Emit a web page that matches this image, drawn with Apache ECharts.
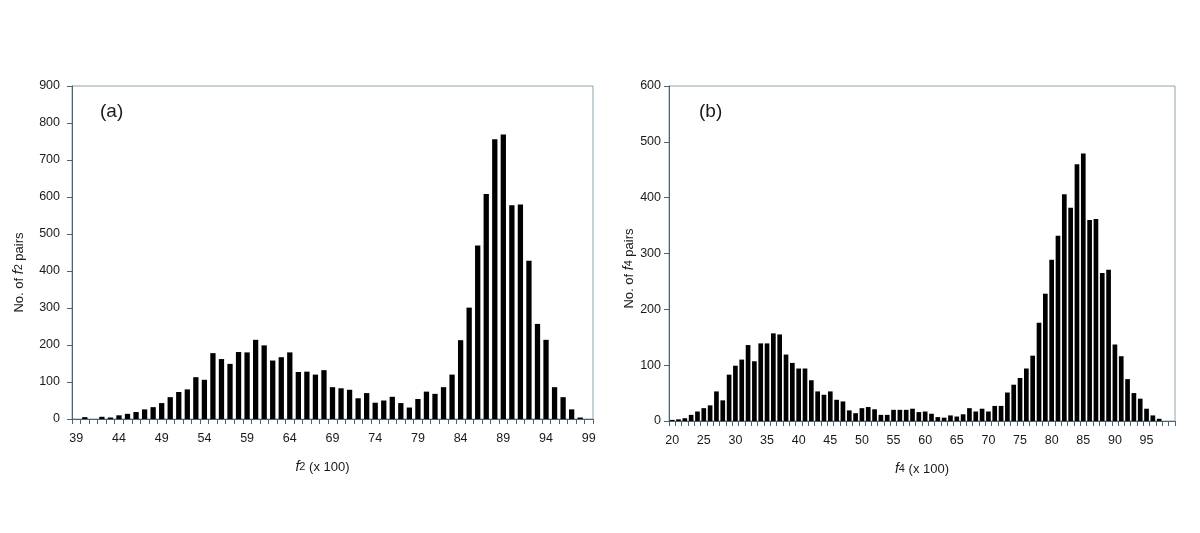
<!DOCTYPE html>
<html>
<head>
<meta charset="utf-8">
<script src="https://cdn.jsdelivr.net/npm/echarts@6/dist/echarts.min.js"></script>
<style>
html,body{margin:0;padding:0;background:#fff;}
#c{width:1200px;height:533px;}
</style>
</head>
<body>
<div id="c"></div>
<script>
// (a) f2 histogram
const catsA = [];
for (let v = 39; v <= 99; v++) catsA.push(String(v));
const valsA = [0,5,0,6,4,10,14,19,26,32,43,59,73,80,113,106,178,162,149,181,180,214,199,158,167,180,127,128,120,132,86,83,79,56,70,44,50,60,43,31,54,74,68,86,120,213,301,469,608,756,769,578,580,428,257,214,86,59,26,4,0];
// (b) f4 histogram
const catsB = [];
for (let v = 20; v <= 99; v++) catsB.push(String(v));
const valsB = [2,3,5,11,17,23,28,53,37,83,99,110,136,107,139,139,157,155,119,104,94,94,73,53,47,53,38,35,19,14,23,25,21,11,11,20,20,20,22,16,17,13,7,6,10,8,12,23,17,22,17,27,27,51,65,77,94,117,176,228,289,332,406,382,460,479,360,362,265,271,137,116,75,50,40,22,10,4,0,0];
const yMaxA = 900, yMaxB = 600, yStep = 100;

const FONT = '"Liberation Sans", Arial, sans-serif';
const AXIS = '#4d6470';
const FRAME = '#8fa4ad';
const TXT = '#1a1a1a';

function richStyle(sz) {
  return {
    i: {fontFamily: FONT, fontSize: sz + 1, fontStyle: 'italic', color: TXT},
    s: {fontFamily: FONT, fontSize: sz - 2, color: TXT},
    n: {fontFamily: FONT, fontSize: sz, color: TXT}
  };
}
function xAxis(idx, cats, name, pad) {
  return {
    type: 'category', gridIndex: idx, data: cats,
    name: name, nameLocation: 'middle', nameGap: 41,
    nameTextStyle: {fontFamily: FONT, fontSize: 13, color: TXT, padding: pad, rich: richStyle(13)},
    axisLine: {lineStyle: {color: AXIS, width: 1}},
    axisTick: {show: true, interval: 0, length: 5, inside: false, lineStyle: {color: AXIS}},
    axisLabel: {interval: 4, margin: 13, fontFamily: FONT, fontSize: 12.5, color: TXT},
    splitLine: {show: false}
  };
}
function yAxis(idx, max, name, gap, margin, pad) {
  return {
    type: 'value', gridIndex: idx, min: 0, max: max, interval: yStep,
    name: name, nameLocation: 'middle', nameGap: gap, nameRotate: 90,
    nameTextStyle: {fontFamily: FONT, fontSize: 13, color: TXT, padding: pad, rich: richStyle(13)},
    axisLine: {show: true, lineStyle: {color: AXIS, width: 1}},
    axisTick: {show: true, length: 5, lineStyle: {color: AXIS}},
    axisLabel: {margin: margin, fontFamily: FONT, fontSize: 12.5, color: TXT},
    splitLine: {show: false}
  };
}

const chart = echarts.init(document.getElementById('c'), null, {renderer: 'canvas'});
chart.setOption({
  animation: false,
  backgroundColor: '#fff',
  grid: [
    {left: 72, top: 86, width: 521, height: 333, show: true, borderColor: FRAME, borderWidth: 1, backgroundColor: 'transparent'},
    {left: 669, top: 86, width: 506, height: 335, show: true, borderColor: FRAME, borderWidth: 1, backgroundColor: 'transparent'}
  ],
  xAxis: [
    xAxis(0, catsA, '{i|f}{s|2}{n| (x 100)}', [0, 20, 0, 0]),
    xAxis(1, catsB, '{i|f}{s|4}{n| (x 100)}', [0, 0, 0, 0])
  ],
  yAxis: [
    yAxis(0, yMaxA, '{n|No. of }{i|f}{s|2}{n| pairs}', 46, 12, [0, 40, 0, 0]),
    yAxis(1, yMaxB, '{n|No. of }{i|f}{s|4}{n| pairs}', 33, 8, [0, 30, 0, 0])
  ],
  graphic: [
    {type: 'text', left: 100, top: 102, style: {text: '(a)', font: '19px ' + FONT, fill: TXT}},
    {type: 'text', left: 699, top: 102, style: {text: '(b)', font: '19px ' + FONT, fill: TXT}}
  ],
  series: [
    {type: 'bar', xAxisIndex: 0, yAxisIndex: 0, data: valsA, barWidth: '62%', itemStyle: {color: '#000'}},
    {type: 'bar', xAxisIndex: 1, yAxisIndex: 1, data: valsB, barWidth: '74%', itemStyle: {color: '#000'}}
  ]
});
</script>
</body>
</html>
